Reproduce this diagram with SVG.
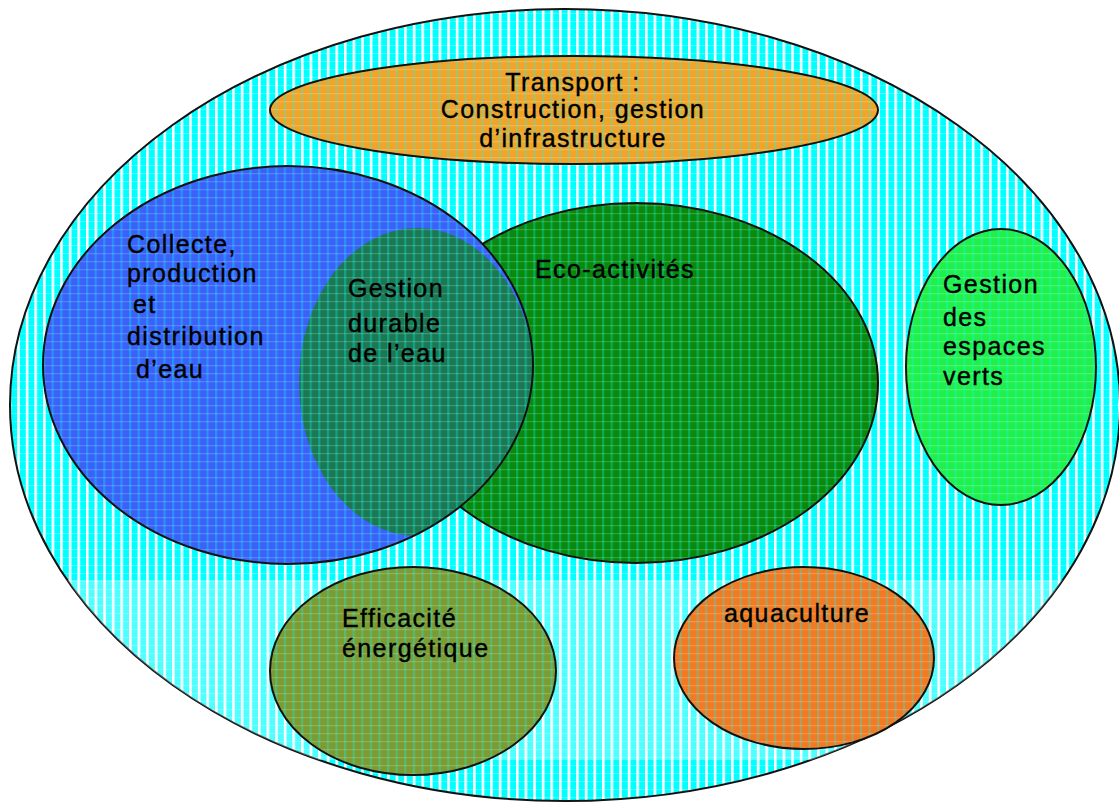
<svg xmlns="http://www.w3.org/2000/svg" width="1119" height="808" viewBox="0 0 1119 808">
  <defs>
    <pattern id="outerPat" patternUnits="userSpaceOnUse" width="8.6" height="8">
      <rect width="8.6" height="8" fill="#00FFFF"/>
      <rect x="0" y="0" width="2.6" height="8" fill="#FFFFFF"/>
      <rect x="0" y="5" width="8.6" height="1" fill="#FFFFFF" opacity="0.25"/>
    </pattern>
    <pattern id="tex" patternUnits="userSpaceOnUse" width="8.6" height="8">
      <rect x="0" y="0" width="2.2" height="8" fill="#00FFFF" opacity="0.3"/>
      <rect x="0" y="5" width="8.6" height="1.2" fill="#FFFFFF" opacity="0.18"/>
    </pattern>
    <clipPath id="outerClip"><ellipse cx="565" cy="405" rx="555" ry="396"/></clipPath>
    <clipPath id="blueClip"><ellipse cx="288" cy="365" rx="245" ry="199"/></clipPath>
  </defs>
  <style>
    .ol { stroke: #111; stroke-width: 2; }
    .tx { fill: url(#tex); stroke: none; }
    .t { font-family: "Liberation Sans", Arial, sans-serif; font-size: 25px; letter-spacing: 1.4px; fill: #000; stroke: #000; stroke-width: 0.4px; }
    .c { text-anchor: middle; }
  </style>

  <g id="outer">
    <ellipse cx="565" cy="405" rx="555" ry="396" fill="url(#outerPat)" class="ol"/>
    <rect x="0" y="580" width="1119" height="180" fill="#FFFFFF" opacity="0.3" clip-path="url(#outerClip)"/>
  </g>

  <g id="transport">
    <ellipse cx="574" cy="110" rx="304" ry="54" fill="#F2A428" class="ol"/>
    <ellipse cx="574" cy="110" rx="303" ry="53" class="tx"/>
    <text class="t c" x="573" y="91">Transport :</text>
    <text class="t c" x="573" y="118">Construction, gestion</text>
    <text class="t c" x="573" y="147">d’infrastructure</text>
  </g>

  <g id="eco-activites">
    <ellipse cx="636" cy="383" rx="242" ry="180" fill="#098A0C" class="ol"/>
    <ellipse cx="636" cy="383" rx="241" ry="179" class="tx"/>
    <text class="t" x="535" y="278">Eco-activités</text>
  </g>

  <g id="collecte">
    <ellipse cx="288" cy="365" rx="245" ry="199" fill="#3A62F8"/>
    <ellipse cx="288" cy="365" rx="245" ry="199" class="tx"/>
    <text class="t" x="127" y="253">Collecte,</text>
    <text class="t" x="127" y="282">production</text>
    <text class="t" x="133" y="313">et</text>
    <text class="t" x="127" y="345">distribution</text>
    <text class="t" x="136" y="378">d’eau</text>
  </g>

  <g id="gestion-durable">
    <g clip-path="url(#blueClip)">
      <ellipse cx="417" cy="382" rx="118" ry="154" fill="#187A44" opacity="0.92"/>
      <ellipse cx="417" cy="382" rx="118" ry="154" class="tx"/>
    </g>
    <ellipse cx="288" cy="365" rx="245" ry="199" fill="none" class="ol"/>
    <text class="t" x="348" y="297">Gestion</text>
    <text class="t" x="348" y="332">durable</text>
    <text class="t" x="348" y="362">de l’eau</text>
  </g>

  <g id="espaces-verts">
    <ellipse cx="1001" cy="367" rx="95" ry="138" fill="#22F04A" class="ol"/>
    <ellipse cx="1001" cy="367" rx="94" ry="137" class="tx"/>
    <text class="t" x="943" y="293">Gestion</text>
    <text class="t" x="943" y="326">des</text>
    <text class="t" x="943" y="355">espaces</text>
    <text class="t" x="943" y="385">verts</text>
  </g>

  <g id="efficacite">
    <ellipse cx="413" cy="671" rx="143" ry="104" fill="#7C9C32" class="ol"/>
    <ellipse cx="413" cy="671" rx="142" ry="103" class="tx"/>
    <text class="t" x="342" y="627">Efficacité</text>
    <text class="t" x="342" y="657">énergétique</text>
  </g>

  <g id="aquaculture">
    <ellipse cx="804" cy="658" rx="130" ry="91" fill="#F27A22" class="ol"/>
    <ellipse cx="804" cy="658" rx="129" ry="90" class="tx"/>
    <text class="t" x="724" y="622">aquaculture</text>
  </g>
</svg>
